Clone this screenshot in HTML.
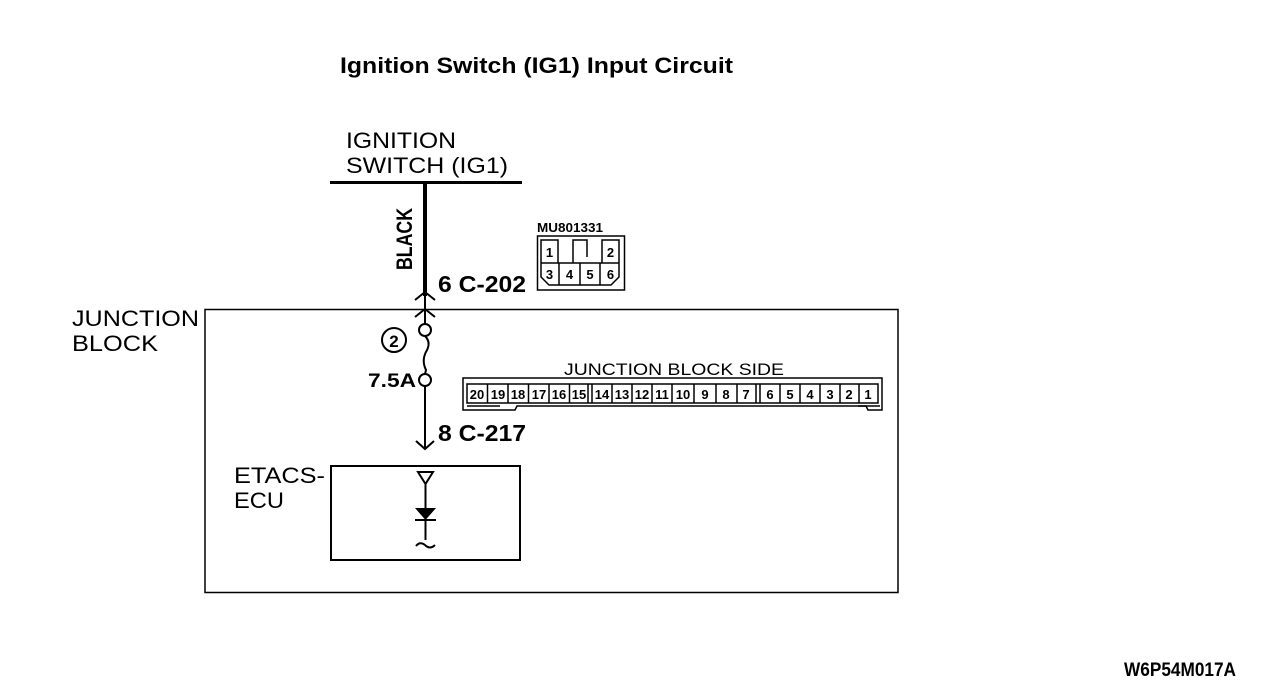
<!DOCTYPE html>
<html><head><meta charset="utf-8"><style>
html,body{margin:0;padding:0;background:#fff;width:1280px;height:700px;overflow:hidden}
svg{display:block}
text{font-family:"Liberation Sans",sans-serif;fill:#000}
.b{font-weight:bold}
.n{font-weight:bold;font-size:13px}
</style></head><body>
<svg width="1280" height="700" viewBox="0 0 1280 700" xmlns="http://www.w3.org/2000/svg">
<text x="340" y="73" class="b" font-size="22" textLength="393" lengthAdjust="spacingAndGlyphs">Ignition Switch (IG1) Input Circuit</text>
<text x="346" y="148" font-size="22" textLength="110" lengthAdjust="spacingAndGlyphs">IGNITION</text>
<text x="346" y="173" font-size="22" textLength="162" lengthAdjust="spacingAndGlyphs">SWITCH (IG1)</text>
<line x1="330" y1="182.5" x2="522" y2="182.5" stroke="#000" stroke-width="3"/>
<line x1="425" y1="182" x2="425" y2="296" stroke="#000" stroke-width="4"/>
<text class="b" font-size="22" transform="translate(412,270) rotate(-90)" textLength="62" lengthAdjust="spacingAndGlyphs">BLACK</text>
<text x="438" y="292" class="b" font-size="23" textLength="88" lengthAdjust="spacingAndGlyphs">6 C-202</text>
<g fill="none" stroke="#000" stroke-width="2">
<path d="M415 300 L425 292 L435 300"/>
<line x1="425" y1="296" x2="425" y2="324"/>
<path d="M415 317 L425 309 L435 317"/>
<circle cx="425" cy="330" r="6"/>
<path d="M425 336 Q431 342 427 350 Q421 360 426 370 L425 374"/>
<circle cx="425" cy="380" r="6"/>
<line x1="425" y1="386" x2="425" y2="449"/>
<path d="M416 441 L425 449 L434 441"/>
<circle cx="394" cy="340" r="12"/>
<rect x="205" y="309.5" width="693" height="283" stroke-width="1.5"/>
<rect x="331" y="466" width="189" height="94"/>
<path d="M418 472 L433 472 L425.5 484 Z"/>
<line x1="425.5" y1="484" x2="425.5" y2="540"/>
<line x1="415" y1="520" x2="436" y2="520"/>
<path d="M416 546 Q420 541 425 545 Q430 550 435 545"/>
<rect x="537.5" y="236" width="87" height="54" stroke-width="1.5"/>
<path d="M541 263 L541 240 L558 240 L558 263 M602 263 L602 240 L619 240 L619 263 M573 263 L573 240 L587 240 L587 257 M541 263 L619 263 M541 263 L541 277 L549 285 L611 285 L619 277 L619 263 M559 263 L559 285 M580 263 L580 285 M600 263 L600 285" stroke-width="1.5"/>
<path d="M463 378 L882 378 L882 410 L868 410 L866 406 L517 406 L515 410 L463 410 Z" stroke-width="1.5"/>
<rect x="467" y="384" width="411" height="19" stroke-width="1.5"/>
<path d="M467 406 L500 406 M858 406 L880 406" stroke-width="1.5"/>
</g>
<path d="M415 508 L436 508 L425.5 520 Z" fill="#000"/>
<text x="394" y="347" class="b" font-size="17" text-anchor="middle">2</text>
<text x="368" y="387" class="b" font-size="19" textLength="48" lengthAdjust="spacingAndGlyphs">7.5A</text>
<text x="438" y="441" class="b" font-size="23" textLength="88" lengthAdjust="spacingAndGlyphs">8 C-217</text>
<text x="72" y="326" font-size="22" textLength="127" lengthAdjust="spacingAndGlyphs">JUNCTION</text>
<text x="72" y="351" font-size="22" textLength="86" lengthAdjust="spacingAndGlyphs">BLOCK</text>
<text x="234" y="483" font-size="22" textLength="91" lengthAdjust="spacingAndGlyphs">ETACS-</text>
<text x="234" y="508" font-size="22" textLength="50" lengthAdjust="spacingAndGlyphs">ECU</text>
<text x="537" y="232" class="b" font-size="13" textLength="66" lengthAdjust="spacingAndGlyphs">MU801331</text>
<g class="n" text-anchor="middle" font-size="14">
<text x="549.5" y="257">1</text><text x="610.5" y="257">2</text>
<text x="549.5" y="279">3</text><text x="569.5" y="279">4</text><text x="590" y="279">5</text><text x="610.5" y="279">6</text>
</g>
<text x="564" y="375" font-size="17" textLength="220" lengthAdjust="spacingAndGlyphs">JUNCTION BLOCK SIDE</text>
<g stroke="#000" stroke-width="1.5">
<line x1="487.5" y1="384" x2="487.5" y2="403"/><line x1="508" y1="384" x2="508" y2="403"/><line x1="528.5" y1="384" x2="528.5" y2="403"/><line x1="549" y1="384" x2="549" y2="403"/><line x1="569.5" y1="384" x2="569.5" y2="403"/>
<line x1="588" y1="384" x2="588" y2="403"/><line x1="592" y1="384" x2="592" y2="403"/>
<line x1="612" y1="384" x2="612" y2="403"/><line x1="632" y1="384" x2="632" y2="403"/><line x1="652" y1="384" x2="652" y2="403"/><line x1="672" y1="384" x2="672" y2="403"/><line x1="694" y1="384" x2="694" y2="403"/><line x1="716" y1="384" x2="716" y2="403"/><line x1="737" y1="384" x2="737" y2="403"/>
<line x1="756" y1="384" x2="756" y2="403"/><line x1="760" y1="384" x2="760" y2="403"/>
<line x1="780" y1="384" x2="780" y2="403"/><line x1="800" y1="384" x2="800" y2="403"/><line x1="820" y1="384" x2="820" y2="403"/><line x1="840" y1="384" x2="840" y2="403"/><line x1="859" y1="384" x2="859" y2="403"/>
</g>
<g class="n" text-anchor="middle">
<text x="477" y="399">20</text><text x="498" y="399">19</text><text x="518" y="399">18</text><text x="539" y="399">17</text><text x="559" y="399">16</text><text x="579" y="399">15</text>
<text x="602" y="399">14</text><text x="622" y="399">13</text><text x="642" y="399">12</text><text x="662" y="399">11</text><text x="683" y="399">10</text><text x="705" y="399">9</text><text x="726" y="399">8</text><text x="746" y="399">7</text>
<text x="770" y="399">6</text><text x="790" y="399">5</text><text x="810" y="399">4</text><text x="830" y="399">3</text><text x="849" y="399">2</text><text x="868" y="399">1</text>
</g>
<text x="1124" y="676" class="b" font-size="19" textLength="112" lengthAdjust="spacingAndGlyphs">W6P54M017A</text>
</svg>
</body></html>
